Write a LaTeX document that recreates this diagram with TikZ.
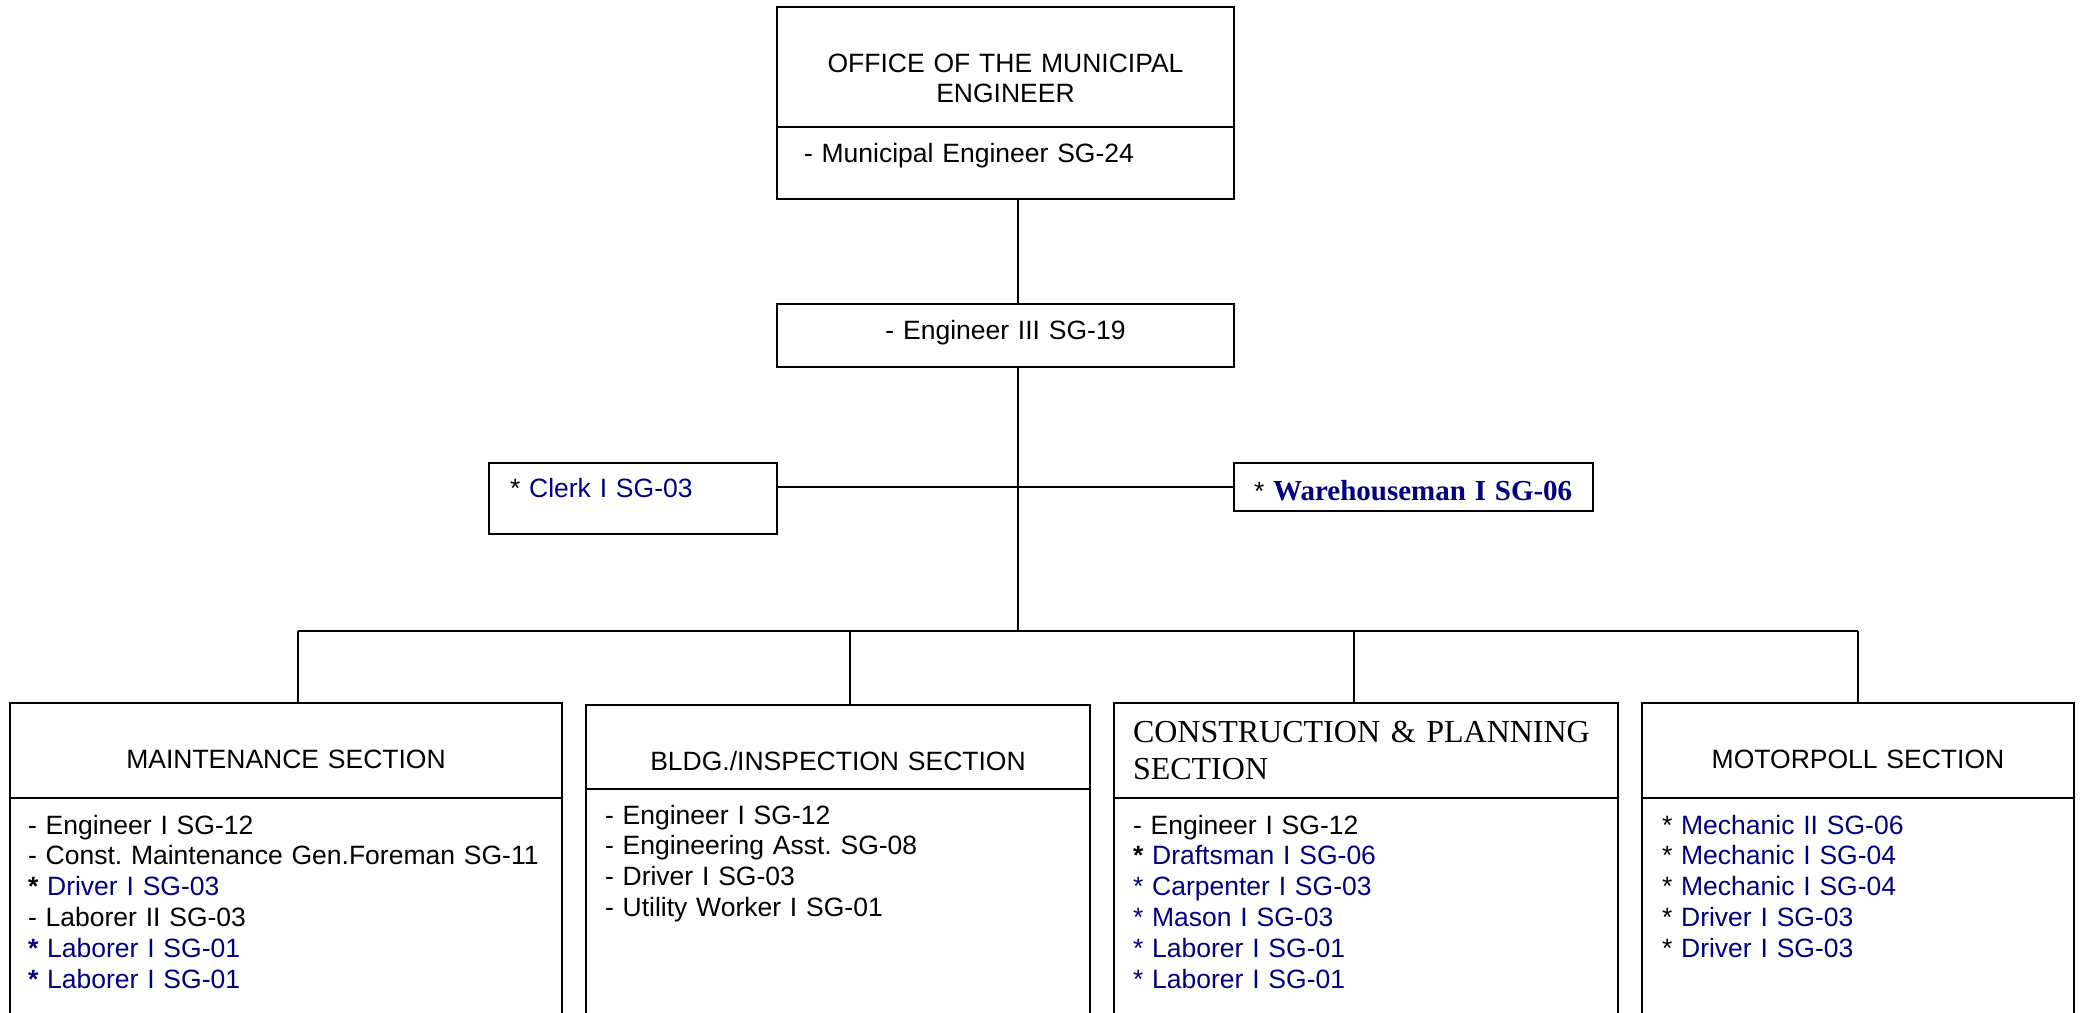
\documentclass[tikz,border=0pt]{standalone}
\usepackage{fontspec}
\usepackage{xcolor}
\usepackage{tikz}
\usetikzlibrary{positioning}
\setmainfont{Liberation Sans}
\newfontfamily\timesfont{Liberation Serif}
\definecolor{posblue}{RGB}{0,0,128}
\frenchspacing

\begin{document}
\begin{tikzpicture}[x=0.5pt, y=-0.5pt,
		box/.style={draw, line width=1pt, inner sep=0pt, outer sep=0pt, font=\fontsize{13.25}{15.4}\selectfont},
		headbox/.style={box, align=center},
		listbox/.style={box, align=left},
		link/.style={line width=1pt}]
	\useasboundingbox (0,0) rectangle (2085,1013);
	% office and head
	\node [headbox, minimum width=228.5pt, minimum height=60pt, text width=220pt, text height=12.5pt, text depth=7.5pt] (office) at (1005.5,67) {OFFICE OF THE MUNICIPAL\\ENGINEER};
	\node [listbox, below=0pt of office, inner xsep=13.5pt, text width=201.5pt, text height=17.5pt, text depth=18.5pt] (mengr) {- Municipal Engineer SG-24};
	\node [headbox, below=52.5pt of mengr, minimum width=228.5pt, minimum height=31.5pt, text width=220pt, text height=10pt, text depth=6.5pt] (eng3) {- Engineer III SG-19};
	%
	\node [listbox, inner xsep=10.5pt, text width=123pt, minimum height=35.5pt, text height=10pt, text depth=11.5pt] (clerk) at (633,498.5) {* \textcolor{posblue}{Clerk I SG-03}};
	\node [listbox, inner xsep=10pt, text width=159.5pt, minimum height=24pt, text height=16pt, text depth=3pt] (store) at (1413.5,487) {\mbox{* \textcolor{posblue}{\timesfont\bfseries\fontsize{14.5}{17}\selectfont Warehouseman I SG-06}}};
	%
	\node [headbox, minimum width=276pt, minimum height=47.5pt, text width=270pt, text height=18pt, text depth=0.5pt] (mhead) at (286,750.5) {MAINTENANCE SECTION};
	\node [listbox, below=0pt of mhead, inner xsep=9pt, text width=258pt, text height=18pt, text depth=113pt] (mlist) {- Engineer I SG-12\\
		- Const. Maintenance Gen.Foreman SG-11\\
		\textbf{*} \textcolor{posblue}{Driver I SG-03}\\
		- Laborer II SG-03\\
		\textcolor{posblue}{\textbf{*} Laborer I SG-01}\\
		\textcolor{posblue}{\textbf{*} Laborer I SG-01}};
	%
	\node [headbox, minimum width=252pt, minimum height=42pt, text width=245pt, text height=23pt, text depth=0pt] (bhead) at (838,747) {BLDG./INSPECTION SECTION};
	\node [listbox, below=0pt of bhead, inner xsep=9.5pt, text width=233pt, text height=17.5pt, text depth=118pt] (blist) {- Engineer I SG-12\\
		- Engineering Asst. SG-08\\
		- Driver I SG-03\\
		- Utility Worker I SG-01};
	%
	\node [listbox, minimum width=252pt, minimum height=47.5pt, inner xsep=9.5pt, text width=233pt, text height=12pt, text depth=20.5pt, font=\timesfont\fontsize{16}{18.5}\selectfont] (chead) at (1366,750.5) {CONSTRUCTION \& PLANNING\\SECTION};
	\node [listbox, below=0pt of chead, inner xsep=9.5pt, text width=233pt, text height=18pt, text depth=113pt] (clist) {- Engineer I SG-12\\
		\textbf{*} \textcolor{posblue}{Draftsman I SG-06}\\
		\textcolor{posblue}{* Carpenter I SG-03}\\
		\textcolor{posblue}{* Mason I SG-03}\\
		\textcolor{posblue}{* Laborer I SG-01}\\
		\textcolor{posblue}{* Laborer I SG-01}};
	%
	\node [headbox, minimum width=216pt, minimum height=47.5pt, text width=210pt, text height=18pt, text depth=0.5pt] (phead) at (1858,750.5) {MOTORPOLL SECTION};
	\node [listbox, below=0pt of phead, inner xsep=10pt, text width=196pt, text height=18pt, text depth=113pt] (plist) {{*} \textcolor{posblue}{Mechanic II SG-06}\\
		{*} \textcolor{posblue}{Mechanic I SG-04}\\
		{*} \textcolor{posblue}{Mechanic I SG-04}\\
		{*} \textcolor{posblue}{Driver I SG-03}\\
		{*} \textcolor{posblue}{Driver I SG-03}};
	%
	\coordinate (hub) at (1018,631);
	\coordinate (b1) at (298,631);
	\coordinate (b2) at (850,631);
	\coordinate (b3) at (1354,631);
	\coordinate (b4) at (1858,631);
	\draw [link] (hub |- mengr.south) -- (hub |- eng3.north);
	\draw [link] (hub |- eng3.south) -- (hub);
	\draw [link] (clerk.east |- store.west) -- (store.west);
	\draw [link] (b1) -- (b4);
	\draw [link] (b1) -- (b1 |- mhead.north);
	\draw [link] (b2) -- (b2 |- bhead.north);
	\draw [link] (b3) -- (b3 |- chead.north);
	\draw [link] (b4) -- (b4 |- phead.north);
\end{tikzpicture}
\end{document}
